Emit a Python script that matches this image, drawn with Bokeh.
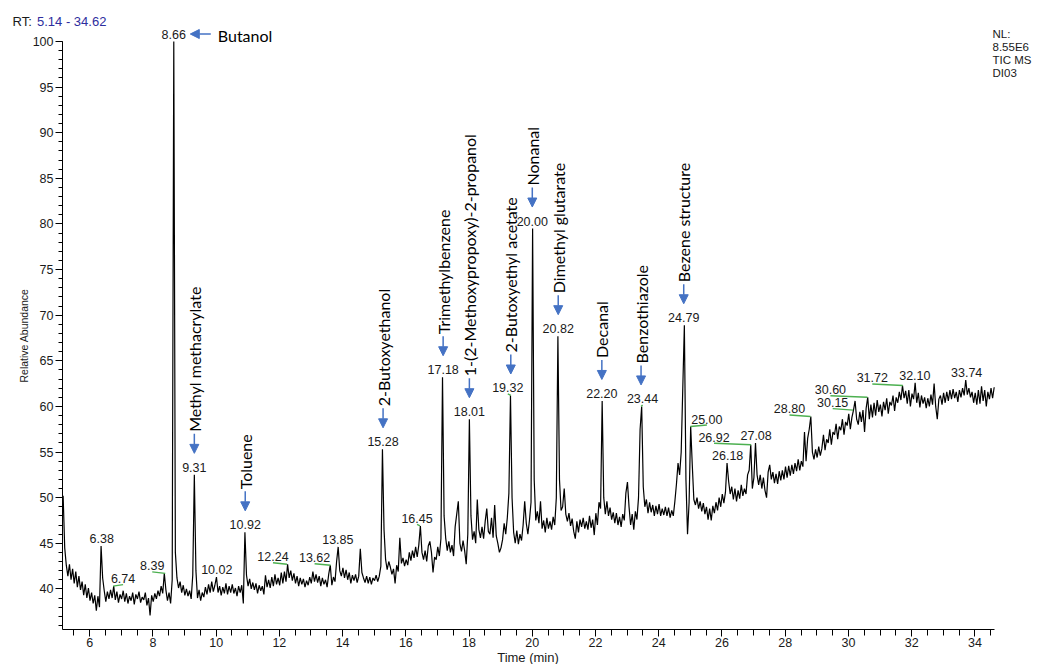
import math
import numpy as np
from bokeh.plotting import figure
from bokeh.models import (ColumnDataSource, LabelSet, Label, Arrow, NormalHead,
                          SingleIntervalTicker, Range1d, LinearAxis)
from bokeh.embed import file_html
from bokeh.resources import INLINE
from bokeh.core.properties import value

# ---------------------------------------------------------------- data
scan_start_min = 5.16      # first scan retention time
scan_interval_min = 0.05   # time between scans

# relative abundance, one value per scan (rows of 1 min)
abundance = [
    50.2, 44.5, 42.6, 41.4, 42.7, 41.0, 42.2, 40.6, 41.9, 40.2, 41.4, 39.9, 40.8, 39.3, 40.5, 39.0, 40.1, 38.7, 39.6, 38.4,
    39.3, 37.6, 39.2, 38.0, 44.7, 41.2, 39.8, 38.6, 39.7, 38.9, 39.9, 39.0, 40.3, 38.8, 39.7, 38.5, 39.4, 38.9, 39.8, 38.6,
    39.5, 38.4, 39.2, 38.7, 39.6, 38.3, 39.4, 38.9, 39.7, 38.5, 39.1, 38.8, 39.6, 38.2, 39.0, 37.1, 39.3, 38.6, 39.5, 38.9,
    39.8, 39.2, 40.3, 39.5, 41.7, 39.9, 38.7, 39.6, 38.4, 41.0, 100.0, 44.0, 41.2, 40.1, 40.8, 39.6, 40.4, 39.3, 40.0, 39.2,
    39.8, 38.9, 41.5, 52.5, 42.0, 39.0, 39.9, 38.7, 39.6, 39.1, 40.2, 39.4, 40.5, 39.6, 40.8, 39.7, 40.4, 41.3, 39.6, 40.3,
    39.3, 40.2, 39.5, 40.6, 39.4, 40.3, 39.6, 40.5, 39.5, 40.1, 39.2, 40.3, 39.6, 40.4, 38.4, 46.2, 41.5, 40.3, 41.1, 40.0,
    40.7, 39.9, 40.6, 39.5, 40.4, 39.8, 40.3, 39.4, 41.5, 40.2, 41.0, 40.1, 41.3, 40.3, 41.6, 40.5, 41.2, 40.4, 41.8, 40.6,
    41.9, 40.8, 42.7, 41.2, 42.0, 40.9, 41.7, 40.6, 41.4, 40.3, 41.2, 40.5, 41.1, 40.2, 40.9, 40.4, 41.3, 40.6, 41.9, 40.8,
    41.6, 40.7, 41.4, 40.3, 41.2, 40.5, 41.0, 40.2, 41.6, 42.6, 40.4, 41.3, 40.8, 43.0, 44.6, 42.0, 41.4, 42.3, 41.2, 42.1,
    41.0, 41.8, 40.6, 41.5, 40.9, 41.6, 40.7, 41.4, 44.4, 41.8, 41.2, 40.7, 41.4, 40.6, 41.3, 40.5, 41.2, 40.9, 41.5, 40.8,
    41.4, 42.5, 55.3, 46.5, 43.2, 42.1, 43.0, 42.4, 41.6, 42.2, 40.6, 42.6, 41.9, 45.6, 42.8, 43.4, 42.5, 43.2, 42.6, 44.0,
    43.1, 44.2, 43.4, 44.6, 43.5, 44.8, 46.9, 44.0, 43.2, 44.2, 43.0, 44.7, 45.2, 44.0, 41.8, 43.5, 43.2, 44.6, 43.6, 45.5,
    63.2, 48.0, 45.6, 44.2, 45.2, 44.0, 44.8, 43.6, 46.8, 48.2, 49.6, 45.0, 44.1, 45.3, 44.2, 42.7, 46.0, 58.6, 48.0, 45.4,
    46.3, 45.0, 49.8, 46.5, 45.6, 46.8, 45.5, 47.4, 48.8, 46.3, 46.0, 47.8, 45.6, 49.2, 45.8, 45.0, 44.0, 44.5, 45.4, 47.2,
    46.0, 47.8, 50.5, 61.2, 50.0, 46.2, 45.0, 46.4, 44.9, 46.0, 45.3, 47.0, 49.6, 47.2, 46.0, 47.5, 49.5, 79.5, 52.0, 47.5,
    48.5, 47.2, 49.6, 46.6, 47.5, 46.2, 47.8, 46.6, 47.4, 46.5, 47.9, 47.0, 50.0, 67.7, 52.0, 48.6, 49.0, 51.0, 48.2, 47.4,
    48.3, 46.9, 47.7, 46.3, 45.5, 47.4, 46.2, 47.6, 46.8, 47.8, 46.6, 47.4, 46.5, 48.0, 46.7, 47.6, 45.9, 48.3, 47.0, 49.5,
    48.8, 60.6, 50.0, 48.2, 49.6, 48.0, 48.9, 47.6, 48.4, 47.2, 48.3, 47.0, 47.9, 46.8, 48.2, 47.5, 50.5, 51.7, 49.0, 47.0,
    48.2, 46.5, 48.5, 47.6, 50.0, 57.5, 60.0, 51.2, 49.0, 49.8, 48.3, 49.5, 48.4, 49.2, 48.0, 49.1, 48.2, 49.3, 48.0, 48.8,
    48.1, 49.0, 48.0, 48.9, 47.8, 48.6, 48.0, 49.6, 51.5, 53.8, 52.5, 55.0, 62.0, 68.9, 52.0, 46.0, 49.5, 57.8, 53.6, 49.8,
    49.2, 50.0, 48.8, 49.6, 48.5, 49.4, 48.2, 49.0, 47.6, 48.8, 47.5, 49.1, 48.3, 49.5, 48.6, 50.0, 49.0, 50.4, 49.4, 50.6,
    53.8, 51.8, 50.4, 51.2, 49.8, 51.0, 49.6, 50.8, 49.9, 51.4, 50.2, 51.0, 50.4, 52.5, 53.0, 55.8, 51.0, 52.2, 56.0, 52.5,
    51.4, 52.5, 51.0, 52.2, 50.8, 50.0, 52.8, 53.6, 52.0, 52.8, 51.6, 52.6, 51.5, 52.9, 51.9, 53.0, 52.0, 53.4, 52.2, 53.5,
    52.4, 53.6, 52.6, 53.8, 52.9, 54.2, 53.0, 54.0, 53.4, 57.2, 54.0, 56.5, 57.5, 58.9, 55.0, 54.2, 55.3, 54.4, 55.6, 54.6,
    55.4, 56.9, 55.2, 56.4, 56.0, 57.5, 55.8, 57.2, 56.9, 58.1, 56.4, 57.8, 57.4, 58.6, 56.9, 58.3, 57.9, 59.2, 57.5, 58.8,
    59.6, 60.6, 58.6, 58.0, 59.4, 58.3, 59.6, 57.2, 59.8, 61.0, 58.6, 60.2, 58.8, 60.4, 59.0, 60.7, 59.4, 60.2, 58.9, 60.5,
    59.6, 60.9, 59.2, 60.5, 60.1, 61.2, 59.5, 61.0, 60.4, 61.6, 60.7, 62.3, 60.9, 61.7, 60.3, 61.8, 60.0, 61.4, 60.8, 62.6,
    60.4, 61.5, 59.9, 61.2, 60.3, 61.0, 59.8, 60.9, 60.0, 61.3, 60.2, 62.5, 60.0, 58.6, 60.8, 61.2, 60.2, 61.5, 60.4, 61.6,
    60.6, 61.8, 60.8, 61.9, 60.9, 61.6, 60.5, 61.8, 61.0, 62.0, 61.2, 62.9, 61.3, 62.0, 61.0, 61.6, 60.4, 61.5, 60.2, 61.8,
    60.3, 62.2, 60.6, 61.8, 60.0, 61.6, 60.8, 62.0, 60.9, 62.1,
]

peak_rt = [6.38, 6.74, 8.39, 8.66, 9.31, 10.02, 10.92, 12.24, 13.62, 13.85,
           15.28, 16.45, 17.18, 18.01, 19.32, 20.00, 20.82, 22.20, 23.44, 24.79,
           25.00, 26.18, 26.92, 27.08, 28.80, 30.15, 30.60, 31.72, 32.10, 33.74]
peak_abundance = [44.7, 40.3, 41.7, 100.0, 52.5, 41.3, 46.2, 42.7, 42.6, 44.6,
                  55.3, 46.9, 63.2, 58.6, 61.2, 79.5, 67.7, 60.6, 60.0, 68.9,
                  57.8, 53.8, 55.8, 56.0, 58.9, 59.6, 61.0, 62.3, 62.6, 62.9]

compound_names = ["Methyl methacrylate", "Toluene", "2-Butoxyethanol", "Trimethylbenzene",
                  "1-(2-Methoxypropoxy)-2-propanol", "2-Butoxyethyl acetate", "Nonanal",
                  "Dimethyl glutarate", "Decanal", "Benzothiazole", "Bezene structure"]
compound_rt = [9.31, 10.92, 15.28, 17.18, 18.01, 19.32, 20.00, 20.82, 22.20, 23.44, 24.79]
main_compound = "Butanol"
main_compound_rt = 8.66

rt_window = [5.14, 34.62]
y_window = [35.55, 100.0]
header_lines = ["NL:", "8.55E6", "TIC MS", "DI03"]

# ---------------------------------------------------------------- layout
W, H = 1039, 664
AX_L, AX_R = 62.0, 994.0      # pixel columns of the axis ends
AX_T, AX_B = 41.0, 629.0      # pixel rows of y=100 and of the x axis
X0, X1 = rt_window
Y0, Y1 = y_window
PPM = (AX_R - AX_L) / (X1 - X0)     # pixels per minute
PPU = (AX_B - AX_T) / (Y1 - Y0)     # pixels per abundance unit
TPP, UPP = 1.0 / PPM, 1.0 / PPU
XR0 = X0 - AX_L / PPM
XR1 = X1 + (W - AX_R) / PPM
YR1 = Y1 + AX_T / PPU
YR0 = Y0 - (H - AX_B) / PPU


def page_t(px):
    return XR0 + px / PPM


def page_v(py):
    return YR1 - py / PPU


FONT = "Liberation Sans"
NAME_FONT = "Lato"
BLUE = "#4472c4"
GREEN = "#4cb050"
TXT = "#1a1a1a"

label_shift_px = {6.74: 10, 8.39: -13, 12.24: -14, 13.62: -16, 16.45: -3, 19.32: -3,
                  23.44: 1.5, 25.00: 16.5, 26.92: -37, 28.80: -21, 30.15: -20.5,
                  30.60: -37, 31.72: -30.5}

times = scan_start_min + scan_interval_min * np.arange(len(abundance))

p = figure(width=W, height=H, x_range=Range1d(XR0, XR1), y_range=Range1d(YR0, YR1),
           output_backend="svg", toolbar_location=None,
           x_axis_location=None, y_axis_location=None,
           min_border_left=0, min_border_right=0, min_border_top=0, min_border_bottom=0)
p.outline_line_color = None
p.grid.visible = False
p.background_fill_color = "white"
p.border_fill_color = "white"

# axes drawn at fixed data locations
xax = LinearAxis(fixed_location=Y0, bounds=(X0, X1),
                 ticker=SingleIntervalTicker(interval=2, num_minor_ticks=4))
yax = LinearAxis(fixed_location=X0, bounds=(Y0, Y1),
                 ticker=SingleIntervalTicker(interval=5, num_minor_ticks=5))
p.add_layout(xax, "below")
p.add_layout(yax, "left")
for ax in (xax, yax):
    ax.axis_line_color = "black"
    ax.axis_line_width = 1
    ax.major_tick_line_color = "black"
    ax.minor_tick_line_color = "black"
    ax.major_tick_in = 0
    ax.minor_tick_in = 0
    ax.major_tick_out = 7
    ax.major_label_text_font = FONT
    ax.major_label_text_font_size = "12.5px"
    ax.major_label_text_color = TXT
xax.minor_tick_out = 6
yax.minor_tick_out = 4
xax.major_label_standoff = 1
yax.major_label_standoff = 2
yax.axis_label = "Relative Abundance"
yax.axis_label_text_font = FONT
yax.axis_label_text_font_size = "10.5px"
yax.axis_label_text_font_style = "normal"
yax.axis_label_text_color = TXT
yax.axis_label_standoff = 0

p.line(times, abundance, line_color="black", line_width=1.2)

# green leader lines for shifted labels
peak_map = dict(zip(peak_rt, peak_abundance))
g_x0, g_y0, g_x1, g_y1 = [], [], [], []
for r, dx in label_shift_px.items():
    h = peak_map[r]
    g_x0.append(r + dx * TPP)
    g_y0.append(h + 1.5 * UPP)
    g_x1.append(r)
    g_y1.append(h)
p.segment(x0=g_x0, y0=g_y0, x1=g_x1, y1=g_y1, line_color=GREEN, line_width=1.4)

# retention-time labels
lab_src = ColumnDataSource(dict(
    x=peak_rt, y=peak_abundance,
    txt=[f"{r:.2f}" for r in peak_rt],
    dx=[label_shift_px.get(r, 0) for r in peak_rt]))
p.add_layout(LabelSet(x="x", y="y", text="txt", x_offset="dx", y_offset=3, source=lab_src,
                      text_align="center", text_baseline="alphabetic",
                      text_font=value(FONT), text_font_size=value("12.5px"),
                      text_color=TXT))

# compound names with arrows
c_h = [peak_map[r] for r in compound_rt]
arr_src = ColumnDataSource(dict(
    x=compound_rt,
    y0=[h + 41 * UPP for h in c_h],
    y1=[h + 21.5 * UPP for h in c_h]))
p.add_layout(Arrow(x_start="x", y_start="y0", x_end="x", y_end="y1", source=arr_src,
                   line_color=BLUE, line_width=1.5,
                   end=NormalHead(size=9, fill_color=BLUE, line_color=BLUE, line_width=1)))
name_src = ColumnDataSource(dict(x=compound_rt, y=[h + 43 * UPP for h in c_h],
                                 txt=compound_names))
p.add_layout(LabelSet(x="x", y="y", text="txt", source=name_src, angle=math.pi / 2,
                      text_align="left", text_baseline="middle",
                      text_font=value(NAME_FONT), text_font_size=value("16px"),
                      text_color="black"))

# Butanol (horizontal)
bh = peak_map[main_compound_rt]
yb = bh + 7.5 * UPP
p.add_layout(Arrow(x_start=main_compound_rt + 37 * TPP, y_start=yb,
                   x_end=main_compound_rt + 16.5 * TPP, y_end=yb,
                   line_color=BLUE, line_width=1.5,
                   end=NormalHead(size=9, fill_color=BLUE, line_color=BLUE, line_width=1)))
p.add_layout(Label(x=main_compound_rt + 44 * TPP, y=bh + 6 * UPP, text=main_compound,
                   text_font=NAME_FONT, text_font_size="16px", text_baseline="middle",
                   text_align="left", text_color="black"))

# header texts
p.add_layout(Label(x=page_t(12), y=page_v(21), text="RT:", text_font=FONT,
                   text_font_size="13px", text_baseline="middle", text_color=TXT))
p.add_layout(Label(x=page_t(36.5), y=page_v(21),
                   text=f"{rt_window[0]:.2f} - {rt_window[1]:.2f}", text_font=FONT,
                   text_font_size="13px", text_baseline="middle", text_color="#2e2e9e"))
for i, line in enumerate(header_lines):
    p.add_layout(Label(x=page_t(992), y=page_v(33 + 13.3 * i), text=line, text_font=FONT,
                       text_font_size="11.5px", text_baseline="middle", text_color=TXT))

p.add_layout(Label(x=page_t(527.5), y=page_v(657), text="Time (min)", text_font=FONT,
                   text_font_size="13px", text_baseline="middle", text_align="center",
                   text_color=TXT))

open("out.html", "w").write(file_html(p, INLINE))
